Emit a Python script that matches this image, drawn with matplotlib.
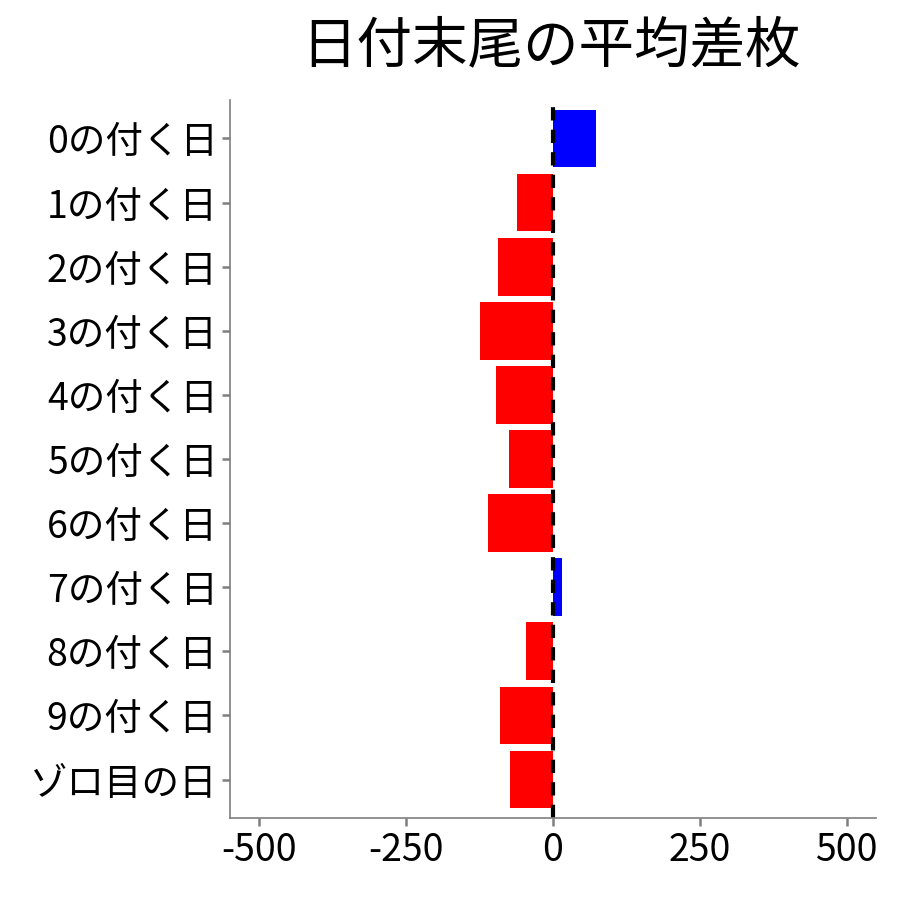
import matplotlib
matplotlib.use("Agg")
import matplotlib.pyplot as plt

plt.rcParams['font.family'] = ['Noto Sans CJK JP', 'DejaVu Sans']

labels = ["0の付く日", "1の付く日", "2の付く日", "3の付く日", "4の付く日",
          "5の付く日", "6の付く日", "7の付く日", "8の付く日", "9の付く日",
          "ゾロ目の日"]
values = [74, -61, -93, -124, -97, -75, -110, 15, -46, -90, -73]
xticks = [-500, -250, 0, 250, 500]

colors = ["blue" if v > 0 else "red" for v in values]
ypos = list(range(len(labels)))[::-1]

fig = plt.figure(figsize=(9, 9), dpi=100)
ax = fig.add_axes([0.2556, 0.0911, 0.9733 - 0.2556, 0.8889 - 0.0911])

ax.barh(ypos, values, height=0.9, color=colors)
ax.axvline(0, color="black", linestyle=(0, (3.2, 2.2)), linewidth=3)

ax.set_xlim(-550, 550)
ax.set_ylim(-0.6, len(labels) - 0.4)
ax.set_xticks(xticks)
ax.set_xticklabels([str(t) for t in xticks])
ax.set_yticks(ypos)
ax.set_yticklabels(labels)

for s in ["top", "right"]:
    ax.spines[s].set_visible(False)
for s in ["left", "bottom"]:
    ax.spines[s].set_color("#7f7f7f")
    ax.spines[s].set_linewidth(1.2)
ax.tick_params(axis="both", colors="#7f7f7f", length=6, width=1.8, labelsize=27,
               labelcolor="black", pad=3)

fig.text(0.6122, 0.948, "日付末尾の平均差枚", ha="center", va="center", fontsize=40)

fig.savefig("out.png", dpi=100)
